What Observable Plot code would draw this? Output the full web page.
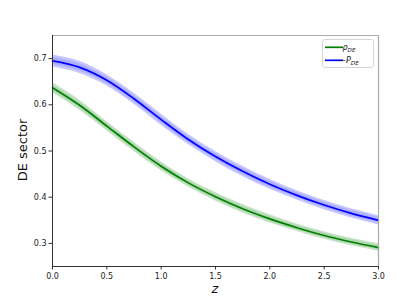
<!DOCTYPE html>
<html>
<head>
<meta charset="utf-8">
<script src="https://cdn.jsdelivr.net/npm/d3@7"></script>
<script src="https://cdn.jsdelivr.net/npm/@observablehq/plot@0.6"></script>
<style>
  html, body { margin: 0; padding: 0; background: #fff; }
  #chart { width: 420px; height: 300px; }
</style>
</head>
<body>
<div id="chart"></div>
<script>
// Redshift samples
const z = [0, 0.25, 0.5, 0.75, 1.0, 1.25, 1.5, 1.75, 2.0, 2.25, 2.5, 2.75, 3.0];
// rho_DE (green)
const rhoDE = [0.637, 0.599, 0.554, 0.509, 0.467, 0.431, 0.401, 0.375, 0.353, 0.334, 0.317, 0.303, 0.291];
const rhoErr = [0.011, 0.011, 0.010, 0.010, 0.010, 0.009, 0.009, 0.009, 0.009, 0.008, 0.008, 0.008, 0.008];
// -P_DE (blue)
const negPDE = [0.695, 0.681, 0.653, 0.613, 0.568, 0.525, 0.488, 0.456, 0.428, 0.404, 0.383, 0.365, 0.350];
const pErr = [0.013, 0.013, 0.012, 0.012, 0.012, 0.011, 0.011, 0.011, 0.011, 0.010, 0.010, 0.010, 0.010];

const xTicks = [0, 0.5, 1.0, 1.5, 2.0, 2.5, 3.0];
const yTicks = [0.3, 0.4, 0.5, 0.6, 0.7];

const data = z.map((v, i) => ({z: v, rho: rhoDE[i], re: rhoErr[i], p: negPDE[i], pe: pErr[i]}));
const curve = "monotone-x";

const chart = Plot.plot({
  width: 420,
  height: 300,
  marginLeft: 52,
  marginRight: 42,
  marginTop: 35,
  marginBottom: 34,
  style: {fontFamily: "DejaVu Sans", fontSize: "8px", color: "#222", background: "#fff"},
  x: {domain: [0, 3]},
  y: {domain: [0.25, 0.75]},
  marks: [
    Plot.areaY(data, {x: "z", y1: d => d.rho - d.re, y2: d => d.rho + d.re, fill: "green", fillOpacity: 0.22, curve}),
    Plot.areaY(data, {x: "z", y1: d => d.rho - d.re * 0.6, y2: d => d.rho + d.re * 0.6, fill: "green", fillOpacity: 0.12, curve}),
    Plot.line(data, {x: "z", y: "rho", stroke: "green", strokeWidth: 1.7, curve}),
    Plot.areaY(data, {x: "z", y1: d => d.p - d.pe, y2: d => d.p + d.pe, fill: "blue", fillOpacity: 0.22, curve}),
    Plot.areaY(data, {x: "z", y1: d => d.p - d.pe * 0.6, y2: d => d.p + d.pe * 0.6, fill: "blue", fillOpacity: 0.12, curve}),
    Plot.line(data, {x: "z", y: "p", stroke: "blue", strokeWidth: 1.7, curve}),
    Plot.ruleY([0.75], {stroke: "#aaa", strokeWidth: 1.2}),
    Plot.ruleX([3], {stroke: "#aaa", strokeWidth: 1.2}),
    Plot.ruleY([0.25], {stroke: "#333", strokeWidth: 1}),
    Plot.ruleX([0], {stroke: "#333", strokeWidth: 1}),
    Plot.axisX(xTicks, {tickSize: 3.5, tickPadding: 3, tickFormat: d3.format(".1f"), label: null, stroke: "#333"}),
    Plot.axisY(yTicks, {tickSize: 3.5, tickPadding: 2.5, tickFormat: d3.format(".1f"), label: null, stroke: "#333"})
  ]
});

document.getElementById("chart").appendChild(chart);

const svg = d3.select(chart);
// axis titles
svg.append("text")
  .attr("x", 215).attr("y", 293)
  .attr("text-anchor", "middle")
  .attr("font-family", "DejaVu Sans").attr("font-style", "italic")
  .attr("font-size", 13).attr("fill", "#111")
  .text("z");
svg.append("text")
  .attr("transform", "translate(27,150) rotate(-90)")
  .attr("text-anchor", "middle")
  .attr("font-family", "DejaVu Sans")
  .attr("font-size", 13).attr("fill", "#111")
  .text("DE sector");

// legend
const lg = svg.append("g");
lg.append("rect").attr("x", 322.5).attr("y", 39.5).attr("width", 51).attr("height", 28)
  .attr("rx", 2).attr("fill", "#fff").attr("fill-opacity", 0.8).attr("stroke", "#ccc").attr("stroke-width", 0.8);
const entries = [
  {color: "green", main: "ρ", pre: ""},
  {color: "blue", main: "P", pre: "−"}
];
entries.forEach((e, i) => {
  const y = 47.3 + i * 13;
  lg.append("line").attr("x1", 325).attr("x2", 343).attr("y1", y).attr("y2", y)
    .attr("stroke", e.color).attr("stroke-width", 1.7);
  const t = lg.append("text").attr("x", 349).attr("y", y + 3)
    .attr("font-family", "DejaVu Sans").attr("font-size", 8).attr("fill", "#222");
  if (e.pre) t.append("tspan").text(e.pre);
  t.append("tspan").attr("font-style", "italic").text(e.main);
  t.append("tspan").attr("font-style", "italic").attr("font-size", 5.6).attr("dy", 1.5).text("DE");
});
</script>
</body>
</html>
